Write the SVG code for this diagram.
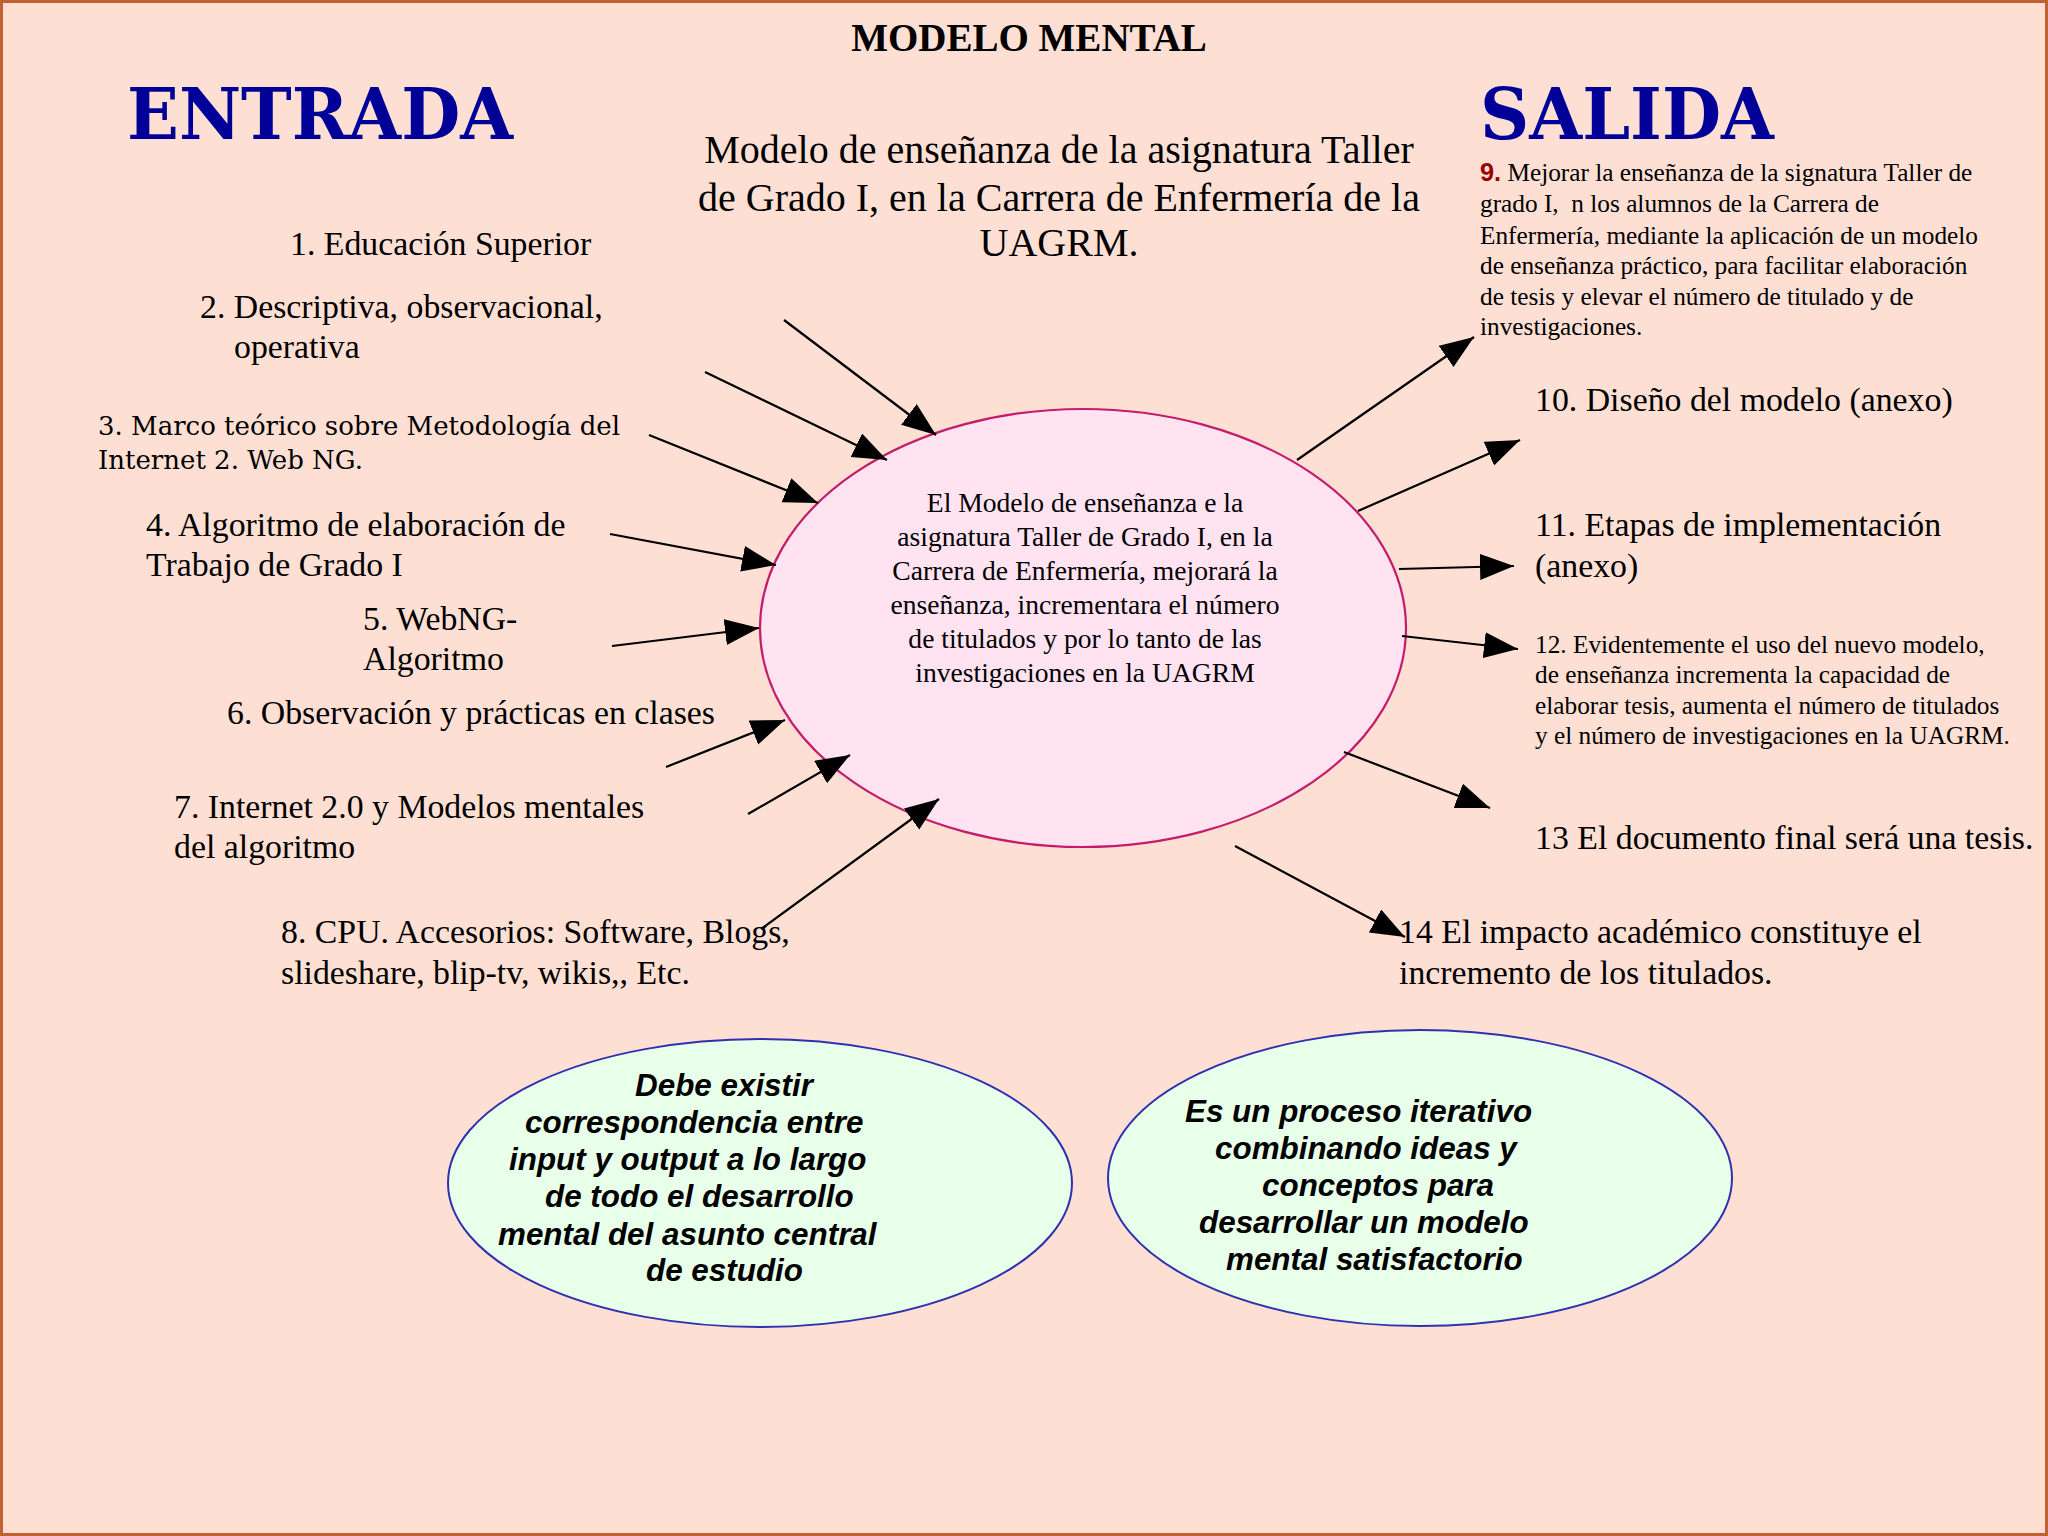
<svg xmlns="http://www.w3.org/2000/svg" width="2048" height="1536" viewBox="0 0 2048 1536">
<defs>
<marker id="ah" markerUnits="userSpaceOnUse" markerWidth="36" markerHeight="28" refX="34" refY="13" orient="auto">
<path d="M0,0 L34,13 L0,26 z" fill="#000"/>
</marker>
<style>
.t{font-family:"Liberation Serif","Times New Roman",serif;fill:#000}
.big{font-size:33.8px}
.mid{font-size:25.3px}
.dv{font-family:"DejaVu Serif",serif;font-size:26px;fill:#000}
.hd{font-family:"DejaVu Serif",serif;font-weight:bold;font-size:71px;fill:#000099}
.bi{font-family:"Liberation Sans",Arial,sans-serif;font-weight:bold;font-style:italic;font-size:31.4px;fill:#000}
.c{stroke:#000;stroke-width:2.2;fill:none;marker-end:url(#ah)}
</style>
</defs>
<rect x="1.5" y="1.5" width="2045" height="1533" fill="#FDDFD3" stroke="#C0622F" stroke-width="3"/>

<g id="title">
<text class="t" x="1029" y="51" text-anchor="middle" font-size="39" font-weight="bold">MODELO MENTAL</text>
</g>
<g id="entrada"><text class="hd" x="127" y="139" textLength="386" lengthAdjust="spacingAndGlyphs">ENTRADA</text></g>
<g id="salida"><text class="hd" x="1480" y="139" textLength="294" lengthAdjust="spacingAndGlyphs">SALIDA</text></g>

<g id="subtitle">
<text class="t" font-size="40" text-anchor="middle" x="1059" y="163">Modelo de enseñanza de la asignatura Taller</text>
<text class="t" font-size="40" text-anchor="middle" x="1059" y="211">de Grado I, en la Carrera de Enfermería de la</text>
<text class="t" font-size="40" text-anchor="middle" x="1059" y="256">UAGRM.</text>
</g>

<g id="in1"><text class="t big" x="290" y="255">1. Educación Superior</text></g>
<g id="in2"><text class="t big" x="200" y="318">2. Descriptiva, observacional,</text><text class="t big" x="234" y="358">operativa</text></g>
<g id="in3"><text class="dv" x="98" y="435">3. Marco teórico sobre Metodología del</text><text class="dv" x="98" y="469">Internet 2. Web NG.</text></g>
<g id="in4"><text class="t big" x="146" y="536">4. Algoritmo de elaboración de</text><text class="t big" x="146" y="576">Trabajo de Grado I</text></g>
<g id="in5"><text class="t big" x="363" y="630">5. WebNG-</text><text class="t big" x="363" y="670">Algoritmo</text></g>
<g id="in6"><text class="t big" x="227" y="724">6. Observación y prácticas en clases</text></g>
<g id="in7"><text class="t big" x="174" y="818">7. Internet 2.0 y Modelos mentales</text><text class="t big" x="174" y="858">del algoritmo</text></g>
<g id="in8"><text class="t big" x="281" y="943">8. CPU. Accesorios: Software, Blogs,</text><text class="t big" x="281" y="984">slideshare, blip-tv, wikis,, Etc.</text></g>

<g id="out9">
<text class="t mid" x="1480" y="181"><tspan font-family="Liberation Sans,Arial,sans-serif" font-weight="bold" fill="#990000">9.</tspan> Mejorar la enseñanza de la signatura Taller de</text>
<text class="t mid" x="1480" y="212" style="white-space:pre">grado I,  n los alumnos de la Carrera de</text>
<text class="t mid" x="1480" y="244">Enfermería, mediante la aplicación de un modelo</text>
<text class="t mid" x="1480" y="274">de enseñanza práctico, para facilitar elaboración</text>
<text class="t mid" x="1480" y="305">de tesis y elevar el número de titulado y de</text>
<text class="t mid" x="1480" y="335">investigaciones.</text>
</g>
<g id="out10"><text class="t big" x="1535" y="411">10. Diseño del modelo (anexo)</text></g>
<g id="out11"><text class="t big" x="1535" y="536">11. Etapas de implementación</text><text class="t big" x="1535" y="577">(anexo)</text></g>
<g id="out12">
<text class="t mid" x="1535" y="653">12. Evidentemente el uso del nuevo modelo,</text>
<text class="t mid" x="1535" y="683">de enseñanza incrementa la capacidad de</text>
<text class="t mid" x="1535" y="714">elaborar tesis, aumenta el número de titulados</text>
<text class="t mid" x="1535" y="744">y el número de investigaciones en la UAGRM.</text>
</g>
<g id="out13"><text class="t big" x="1535" y="849">13 El documento final será una tesis.</text></g>
<g id="out14"><text class="t big" x="1399" y="943">14 El impacto académico constituye el</text><text class="t big" x="1399" y="984">incremento de los titulados.</text></g>

<g id="center">
<ellipse cx="1083" cy="628" rx="323" ry="219" fill="#FFE3F1" stroke="#C41C6A" stroke-width="2.2"/>
<text class="t" font-size="27.6" text-anchor="middle" x="1085" y="512">El Modelo de enseñanza e la</text>
<text class="t" font-size="27.6" text-anchor="middle" x="1085" y="546">asignatura Taller de Grado I, en la</text>
<text class="t" font-size="27.6" text-anchor="middle" x="1085" y="580">Carrera de Enfermería, mejorará la</text>
<text class="t" font-size="27.6" text-anchor="middle" x="1085" y="614">enseñanza, incrementara el número</text>
<text class="t" font-size="27.6" text-anchor="middle" x="1085" y="648">de titulados y por lo tanto de las</text>
<text class="t" font-size="27.6" text-anchor="middle" x="1085" y="682">investigaciones en la UAGRM</text>
</g>

<g id="note-left">
<ellipse cx="760" cy="1183" rx="312" ry="144" fill="#E8FFE9" stroke="#3030B0" stroke-width="2"/>
<text class="bi" x="635" y="1096">Debe existir</text>
<text class="bi" x="525" y="1133">correspondencia entre</text>
<text class="bi" x="509" y="1170">input y output a lo largo</text>
<text class="bi" x="545" y="1207">de todo el desarrollo</text>
<text class="bi" x="498" y="1245">mental del asunto central</text>
<text class="bi" x="646" y="1281">de estudio</text>
</g>
<g id="note-right">
<ellipse cx="1420" cy="1178" rx="312" ry="148" fill="#E8FFE9" stroke="#3030B0" stroke-width="2"/>
<text class="bi" x="1185" y="1122">Es un proceso iterativo</text>
<text class="bi" x="1215" y="1159">combinando ideas y</text>
<text class="bi" x="1262" y="1196">conceptos para</text>
<text class="bi" x="1199" y="1233">desarrollar un modelo</text>
<text class="bi" x="1226" y="1270">mental satisfactorio</text>
</g>

<g id="connectors">
<line class="c" x1="784" y1="320" x2="936" y2="435"/>
<line class="c" x1="705" y1="372" x2="887" y2="460"/>
<line class="c" x1="649" y1="435" x2="818" y2="503"/>
<line class="c" x1="610" y1="534" x2="776" y2="565"/>
<line class="c" x1="612" y1="646" x2="759" y2="628"/>
<line class="c" x1="666" y1="767" x2="785" y2="720"/>
<line class="c" x1="748" y1="814" x2="850" y2="755"/>
<line class="c" x1="761" y1="929" x2="939" y2="799"/>
<line class="c" x1="1297" y1="460" x2="1474" y2="337"/>
<line class="c" x1="1358" y1="511" x2="1520" y2="440"/>
<line class="c" x1="1399" y1="569" x2="1514" y2="566"/>
<line class="c" x1="1402" y1="636" x2="1518" y2="649"/>
<line class="c" x1="1344" y1="752" x2="1490" y2="808"/>
<line class="c" x1="1235" y1="846" x2="1405" y2="937"/>
</g>
</svg>
